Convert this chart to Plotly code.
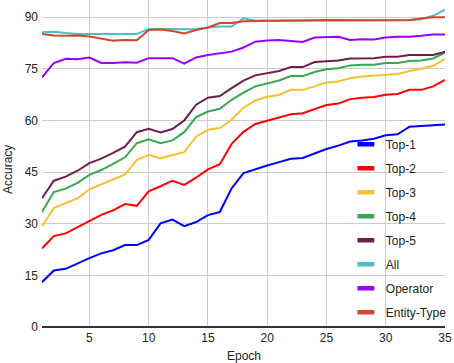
import plotly.graph_objects as go

epochs = list(range(1, 36))

top1 = [13.0, 16.4, 16.9, 18.5, 20.0, 21.4, 22.3, 23.8, 23.8, 25.3,
        30.1, 31.2, 29.3, 30.5, 32.5, 33.4, 40.3, 44.7, 45.9, 46.9,
        47.9, 48.9, 49.1, 50.4, 51.7, 52.7, 53.9, 54.2, 54.7, 55.7,
        56.0, 58.2, 58.4, 58.5, 58.8]
top2 = [22.8, 26.4, 27.2, 29.0, 30.8, 32.6, 33.9, 35.7, 35.2, 39.4,
        40.9, 42.5, 41.3, 43.4, 45.8, 47.3, 53.2, 56.7, 59.0, 60.0,
        60.8, 61.8, 62.1, 63.3, 64.5, 64.9, 66.2, 66.6, 66.8, 67.5,
        67.7, 68.9, 68.9, 69.9, 71.8]
top3 = [29.2, 34.6, 36.0, 37.4, 40.0, 41.5, 42.9, 44.3, 48.5, 50.0,
        49.0, 49.9, 50.8, 55.3, 57.3, 57.8, 60.2, 63.7, 65.8, 66.9,
        67.4, 68.9, 68.9, 69.9, 71.0, 71.3, 72.3, 72.8, 73.0, 73.4,
        73.5, 74.4, 75.0, 75.9, 77.9]
top4 = [33.4, 39.2, 40.2, 41.9, 44.2, 45.6, 47.4, 49.3, 53.4, 54.5,
        53.4, 54.2, 56.6, 61.0, 62.6, 63.4, 66.0, 68.1, 69.9, 70.8,
        71.6, 72.9, 72.9, 74.1, 74.9, 75.2, 76.0, 76.2, 76.2, 76.7,
        76.7, 77.3, 77.4, 78.0, 79.7]
top5 = [37.4, 42.5, 43.7, 45.4, 47.6, 48.9, 50.6, 52.4, 56.6, 57.6,
        56.5, 57.5, 60.0, 64.6, 66.6, 67.1, 69.4, 71.6, 73.1, 73.7,
        74.4, 75.5, 75.5, 77.0, 77.3, 77.4, 78.0, 78.1, 78.1, 78.5,
        78.5, 79.0, 79.0, 79.0, 80.0]
all_acc = [85.6, 85.8, 85.4, 85.1, 85.1, 85.0, 85.1, 85.1, 85.1, 86.6,
           86.7, 86.6, 86.5, 86.6, 87.0, 87.3, 87.3, 89.7, 89.0, 89.0,
           89.0, 89.0, 88.9, 89.0, 89.1, 89.1, 89.0, 89.0, 89.0, 89.0,
           89.0, 89.1, 89.4, 90.4, 92.2]
operator = [72.5, 76.7, 77.9, 77.8, 78.3, 76.7, 76.7, 76.9, 76.8, 78.1,
            78.1, 78.1, 76.5, 78.3, 79.0, 79.4, 80.0, 81.2, 82.9, 83.2,
            83.4, 83.1, 82.8, 84.1, 84.3, 84.3, 83.4, 83.6, 83.5, 84.1,
            84.3, 84.3, 84.6, 85.0, 85.0]
entity_type = [85.1, 84.7, 84.6, 84.7, 84.4, 83.7, 83.2, 83.4, 83.3, 86.3,
               86.4, 86.0, 85.3, 86.3, 87.0, 88.3, 88.3, 88.8, 89.0, 89.0,
               89.0, 89.0, 88.9, 89.1, 89.2, 89.1, 89.0, 89.1, 89.1, 89.1,
               89.1, 89.2, 89.6, 90.0, 90.0]

series = [
    ('Top-1', top1, '#0000ff'),
    ('Top-2', top2, '#ff0000'),
    ('Top-3', top3, '#f4c132'),
    ('Top-4', top4, '#36a852'),
    ('Top-5', top5, '#6e1f4c'),
    ('All', all_acc, '#4dbec6'),
    ('Operator', operator, '#9a00ff'),
    ('Entity-Type', entity_type, '#d2472c'),
]

fig = go.Figure()
for i, (name, vals, color) in enumerate(series):
    fig.add_trace(go.Scatter(x=epochs, y=vals, name=name, mode='lines',
                             line=dict(color=color, width=2),
                             showlegend=False, hoverinfo='skip'))
    # legend-only entry, drawn as a short thick bar like the original
    fig.add_trace(go.Scatter(x=[None], y=[None], name=name, mode='markers',
                             legendgroup='g%d' % i,
                             marker=dict(symbol='line-ew', size=12,
                                         line=dict(color=color, width=4.5))))

# axis titles placed by hand so they sit as close as in the original
fig.add_annotation(text='Epoch', xref='paper', yref='paper', x=0.5, y=0,
                   yshift=-29, showarrow=False, yanchor='middle',
                   font=dict(size=12, color='#222222'))
fig.add_annotation(text='Accuracy', xref='paper', yref='paper', x=0, y=0.48,
                   xshift=-34, showarrow=False, textangle=-90,
                   xanchor='center', yanchor='middle',
                   font=dict(size=12, color='#222222'))

fig.update_layout(
    width=454, height=363,
    margin=dict(l=42, r=9, t=0, b=36),
    plot_bgcolor='white', paper_bgcolor='white',
    font=dict(family='Liberation Sans, Arial', size=12, color='#222222'),
    legend=dict(x=0.754, y=0.603, xanchor='left', yanchor='top',
                bgcolor='rgba(0,0,0,0)', tracegroupgap=5,
                font=dict(size=12, color='#222222')),
    xaxis=dict(range=[1, 35], tickvals=[5, 10, 15, 20, 25, 30, 35],
               showgrid=True, gridcolor='#cccccc', zeroline=False,
               showline=False, ticks='', ticklen=0,
               ticklabeloverflow='allow', ticklabelstandoff=2),
    yaxis=dict(range=[0, 95], tickvals=[0, 15, 30, 45, 60, 75, 90],
               showgrid=True, gridcolor='#cccccc', zeroline=True,
               zerolinecolor='#333333', zerolinewidth=1.5,
               ticks='', ticklen=0, ticklabelstandoff=3),
)

# page body has a default 8px margin; drop it so the chart sits at 0,0
fig.write_html("out.html", config={'displayModeBar': False},
               post_script="document.body.style.margin='0';")
